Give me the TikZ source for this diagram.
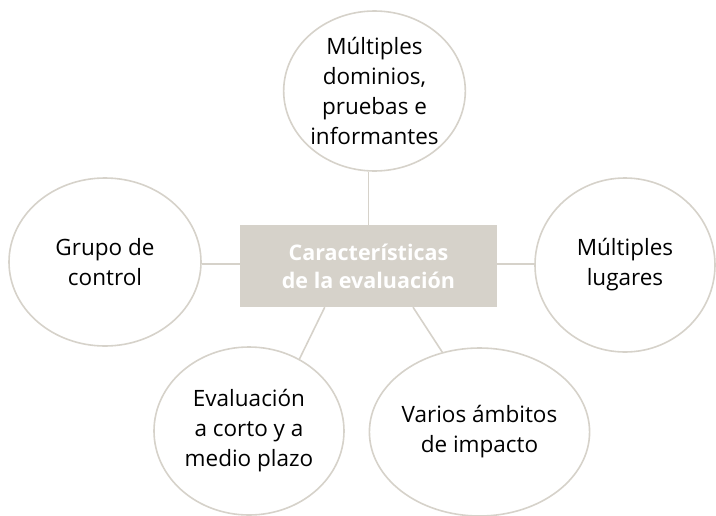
\documentclass[tikz,border=0pt]{standalone}
\usepackage{fontspec}
\setmainfont{Open Sans}
\usetikzlibrary{shapes.geometric,calc}
\definecolor{lin}{RGB}{214,210,202}
\definecolor{boxfill}{RGB}{214,210,202}
\tikzset{
  bubble/.style={ellipse, draw=lin, line width=1.6pt, fill=white, inner sep=0pt, align=center, font=\fontsize{22.5}{30}\selectfont},
  centerbox/.style={rectangle, fill=boxfill, inner sep=0pt, minimum width=257pt, minimum height=82pt, align=center, text=white, font=\bfseries\fontsize{21.5}{28}\selectfont},
  conn/.style={draw=lin, line width=1.6pt}
}
\begin{document}
\begin{tikzpicture}[x=1pt,y=-1pt]
\useasboundingbox (0,0) rectangle (716,515);
\node[centerbox] (c) at (368.5,266) {Características\\de la evaluación};
\node[bubble, minimum width=167pt, minimum height=160pt] (top) at (374.5,91) {Múltiples\\dominios,\\pruebas e\\informantes};
\node[bubble, minimum width=192pt, minimum height=168pt] (left) at (105,262) {Grupo de\\control};
\node[bubble, minimum width=180pt, minimum height=174pt] (right) at (625,265) {Múltiples\\lugares};
\node[bubble, minimum width=190pt, minimum height=168pt] (bl) at (249,431) {Evaluación\\a corto y a\\medio plazo};
\node[bubble, minimum width=191pt, minimum height=168pt] (br) at (479.5,432) {Varios ámbitos\\de impacto};
\draw[conn] (c.north) -- (c.north |- top.south);
\draw[conn] (c.west |- 0,264) -- (left.east |- 0,264);
\draw[conn] (c.east |- 0,264) -- (right.west |- 0,264);
\coordinate (cbl) at ($(c.south west)!0.33!(c.south east)$);
\coordinate (cbr) at ($(c.south west)!0.673!(c.south east)$);
\draw[conn] (cbl) -- (bl.55);
\draw[conn] (cbr) -- (br.115);
\end{tikzpicture}
\end{document}
